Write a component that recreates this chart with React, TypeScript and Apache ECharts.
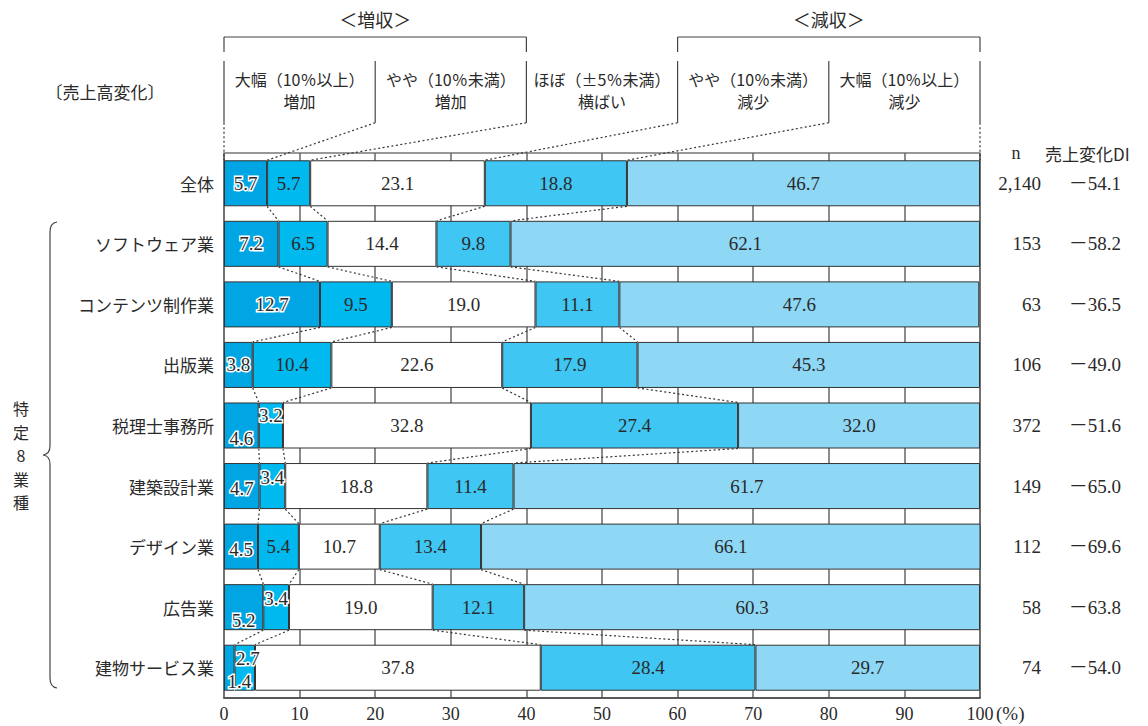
import { useEffect, useRef } from "react";
import * as echarts from "echarts";

// Industries (top to bottom) and the share of firms in each sales-change band (%)
const categories = [
  "全体",
  "ソフトウェア業",
  "コンテンツ制作業",
  "出版業",
  "税理士事務所",
  "建築設計業",
  "デザイン業",
  "広告業",
  "建物サービス業",
];
const seriesNames = [
  "大幅（10％以上）増加",
  "やや（10％未満）増加",
  "ほぼ（±5％未満）横ばい",
  "やや（10％未満）減少",
  "大幅（10％以上）減少",
];
const bigIncrease = [5.7, 7.2, 12.7, 3.8, 4.6, 4.7, 4.5, 5.2, 1.4];
const smallIncrease = [5.7, 6.5, 9.5, 10.4, 3.2, 3.4, 5.4, 3.4, 2.7];
const flat = [23.1, 14.4, 19.0, 22.6, 32.8, 18.8, 10.7, 19.0, 37.8];
const smallDecrease = [18.8, 9.8, 11.1, 17.9, 27.4, 11.4, 13.4, 12.1, 28.4];
const bigDecrease = [46.7, 62.1, 47.6, 45.3, 32.0, 61.7, 66.1, 60.3, 29.7];
const sampleSizes = [2140, 153, 63, 106, 372, 149, 112, 58, 74];
const salesDI = [-54.1, -58.2, -36.5, -49.0, -51.6, -65.0, -69.6, -63.8, -54.0];

// Header boxes: two lines per band, and the axis values their edges sit on
const headerLines = [
  ["大幅（10％以上）", "増加"],
  ["やや（10％未満）", "増加"],
  ["ほぼ（±5％未満）", "横ばい"],
  ["やや（10％未満）", "減少"],
  ["大幅（10％以上）", "減少"],
];
const headerEdges = [0, 20, 40, 60, 80, 100];
const groups = [
  { label: "＜増収＞", from: 0, to: 40 },
  { label: "＜減収＞", from: 60, to: 100 },
];
const groupTitle = ["特", "定", "8", "業", "種"];

const segments = [bigIncrease, smallIncrease, flat, smallDecrease, bigDecrease];
const colors = ["#00a6e4", "#00b9ee", "#ffffff", "#40c6f2", "#8ed8f6"];

// Small segments whose labels are moved off-centre: [segment, row, dx, dy]
const labelNudges: [number, number, number, number][] = [
  [0, 4, 0, 13],
  [1, 4, 0, -10],
  [0, 5, 0, 2],
  [1, 5, 0, -9],
  [0, 6, 0, 3],
  [0, 7, 0, 13],
  [1, 7, 0, -9],
  [0, 8, 10, 14],
  [1, 8, 3, -9],
];

const JP = '"Noto Sans CJK JP", sans-serif';
const NUM = '"Liberation Serif", "Noto Sans CJK JP", serif';
const INK = "#2a2a2a";

const braceD =
  "M57,222 Q50,223 50,232 L50,446 Q50,454 43,455 Q50,456 50,464 L50,678 Q50,687 57,688";
echarts.graphic.registerShape("brace", echarts.graphic.extendPath(braceD, {}) as any);

function cumulative(row: number, k: number) {
  let s = 0;
  for (let i = 0; i < k; i++) s += segments[i][row];
  return Math.round(s * 10) / 10;
}

export default function App() {
  const ref = useRef<HTMLDivElement>(null);

  useEffect(() => {
    document.body.style.margin = "0";
    if (!ref.current) return;
    const chart = echarts.init(ref.current, null, { renderer: "svg" });

    // Dotted links between the band boundaries of consecutive bars
    const links: number[][] = [];
    for (let k = 0; k < headerEdges.length; k++) {
      links.push([headerEdges[k], 0, cumulative(0, k), 0, 1]);
    }
    for (let r = 0; r < categories.length - 1; r++) {
      for (let k = 1; k < segments.length; k++) {
        links.push([cumulative(r, k), r, cumulative(r + 1, k), r + 1, 0]);
      }
    }

    const barSeries = segments.map((values, s) => ({
      name: seriesNames[s],
      type: "bar",
      stack: "total",
      barWidth: "76%",
      itemStyle: { color: colors[s], borderColor: "#333", borderWidth: 1 },
      label: {
        show: true,
        position: "inside",
        fontFamily: NUM,
        fontSize: 19,
        lineHeight: 15,
        color: INK,
        formatter: (p: any) => Number(p.value).toFixed(1),
        ...(s === 0 ? { textBorderColor: "#fff", textBorderWidth: 3 } : {}),
      },
      data: values.map((v, r) => {
        const n = labelNudges.find((e) => e[0] === s && e[1] === r);
        if (!n) return v;
        return {
          value: v,
          label: { offset: [n[2], n[3]], textBorderColor: "#fff", textBorderWidth: 3 },
        };
      }),
      z: 2,
    }));

    chart.setOption({
      animation: false,
      grid: {
        left: 224,
        right: 168,
        top: 153,
        bottom: 28,
        show: true,
        borderColor: "#777",
        borderWidth: 1.5,
      },
      xAxis: {
        type: "value",
        min: 0,
        max: 100,
        interval: 10,
        axisLine: { show: true, lineStyle: { color: "#444", width: 1.5 } },
        axisTick: { show: false },
        splitLine: { show: true, lineStyle: { color: "#666", width: 1.5 } },
        axisLabel: { fontFamily: NUM, fontSize: 18, color: INK, margin: 7 },
      },
      yAxis: {
        type: "category",
        inverse: true,
        data: categories,
        axisLine: { show: false },
        axisTick: { show: false },
        axisLabel: { fontFamily: JP, fontSize: 17, color: INK, margin: 10 },
      },
      series: [
        ...barSeries,
        {
          type: "custom",
          coordinateSystem: "cartesian2d",
          silent: true,
          clip: false,
          z: 5,
          encode: { x: [0, 2], y: [1, 3] },
          data: links,
          renderItem: (_p: any, api: any) => {
            const band = api.size([0, 1])[1];
            const half = band * 0.38;
            const end = api.coord([api.value(2), api.value(3)]);
            const fromHeader = api.value(4) === 1;
            const s = api.coord([api.value(0), api.value(1)]);
            const y1 = fromHeader ? s[1] - band : s[1] + half;
            return {
              type: "line",
              shape: { x1: s[0], y1, x2: end[0], y2: end[1] - half },
              style: { stroke: "#333", lineWidth: 1.2, lineDash: [2, 2.5] },
            };
          },
        },
      ],
    });

    // Decorations placed from the axis scales
    const px = (v: number) => chart.convertToPixel({ xAxisIndex: 0 }, v) as number;
    const py = (r: number) => chart.convertToPixel({ yAxisIndex: 0 }, categories[r]) as number;
    const rowCentre = py(0);
    const band = py(1) - py(0);
    const headerBottom = rowCentre - band;

    const g: any[] = [];
    const line = (x1: number, y1: number, x2: number, y2: number) =>
      g.push({
        type: "line",
        shape: { x1, y1, x2, y2 },
        style: { stroke: "#444", lineWidth: 1.2 },
      });
    const text = (t: string, x: number, y: number, o: any = {}) =>
      g.push({
        type: "text",
        x,
        y,
        style: {
          text: t,
          fill: INK,
          font: `${o.size || 17}px ${o.family || JP}`,
          align: o.align || "center",
          verticalAlign: "middle",
          ...(o.lineHeight ? { lineHeight: o.lineHeight } : {}),
        },
      });

    groups.forEach((gr) => {
      const a = px(gr.from);
      const b = px(gr.to);
      line(a, 37, b, 37);
      line(a, 37, a, 52);
      line(b, 37, b, 52);
      text(gr.label, (a + b) / 2, 19, { size: 18 });
    });
    headerEdges.forEach((e) => line(px(e), 61, px(e), headerBottom));
    headerLines.forEach((ls, i) => {
      const cx = (px(headerEdges[i]) + px(headerEdges[i + 1])) / 2;
      text(ls[0], cx, 79, { size: 16 });
      text(ls[1], cx, 101, { size: 16 });
    });
    text("〔売上高変化〕", 105, 91, { size: 17 });

    text("n", 1016, 153, { size: 18, family: NUM });
    text("売上変化DI", 1045, 153, { size: 17, align: "left" });
    categories.forEach((_c, r) => {
      const y = py(r);
      text(sampleSizes[r].toLocaleString("en-US"), 1041, y, {
        size: 19,
        family: NUM,
        align: "right",
      });
      text(`－${Math.abs(salesDI[r]).toFixed(1)}`, 1121, y, {
        size: 19,
        family: NUM,
        align: "right",
      });
    });

    text("(%)", 996, 713, { size: 19, family: NUM, align: "left" });

    g.push({
      type: "brace",
      x: 0,
      y: 0,
      style: { stroke: "#444", fill: "none", lineWidth: 1.2 },
    });
    groupTitle.forEach((ch, i) =>
      text(ch, 21, 408 + i * 23.5, { size: 16, lineHeight: 17 })
    );

    chart.setOption({ graphic: g });

    return () => chart.dispose();
  }, []);

  return <div ref={ref} style={{ width: 1148, height: 726 }} />;
}
